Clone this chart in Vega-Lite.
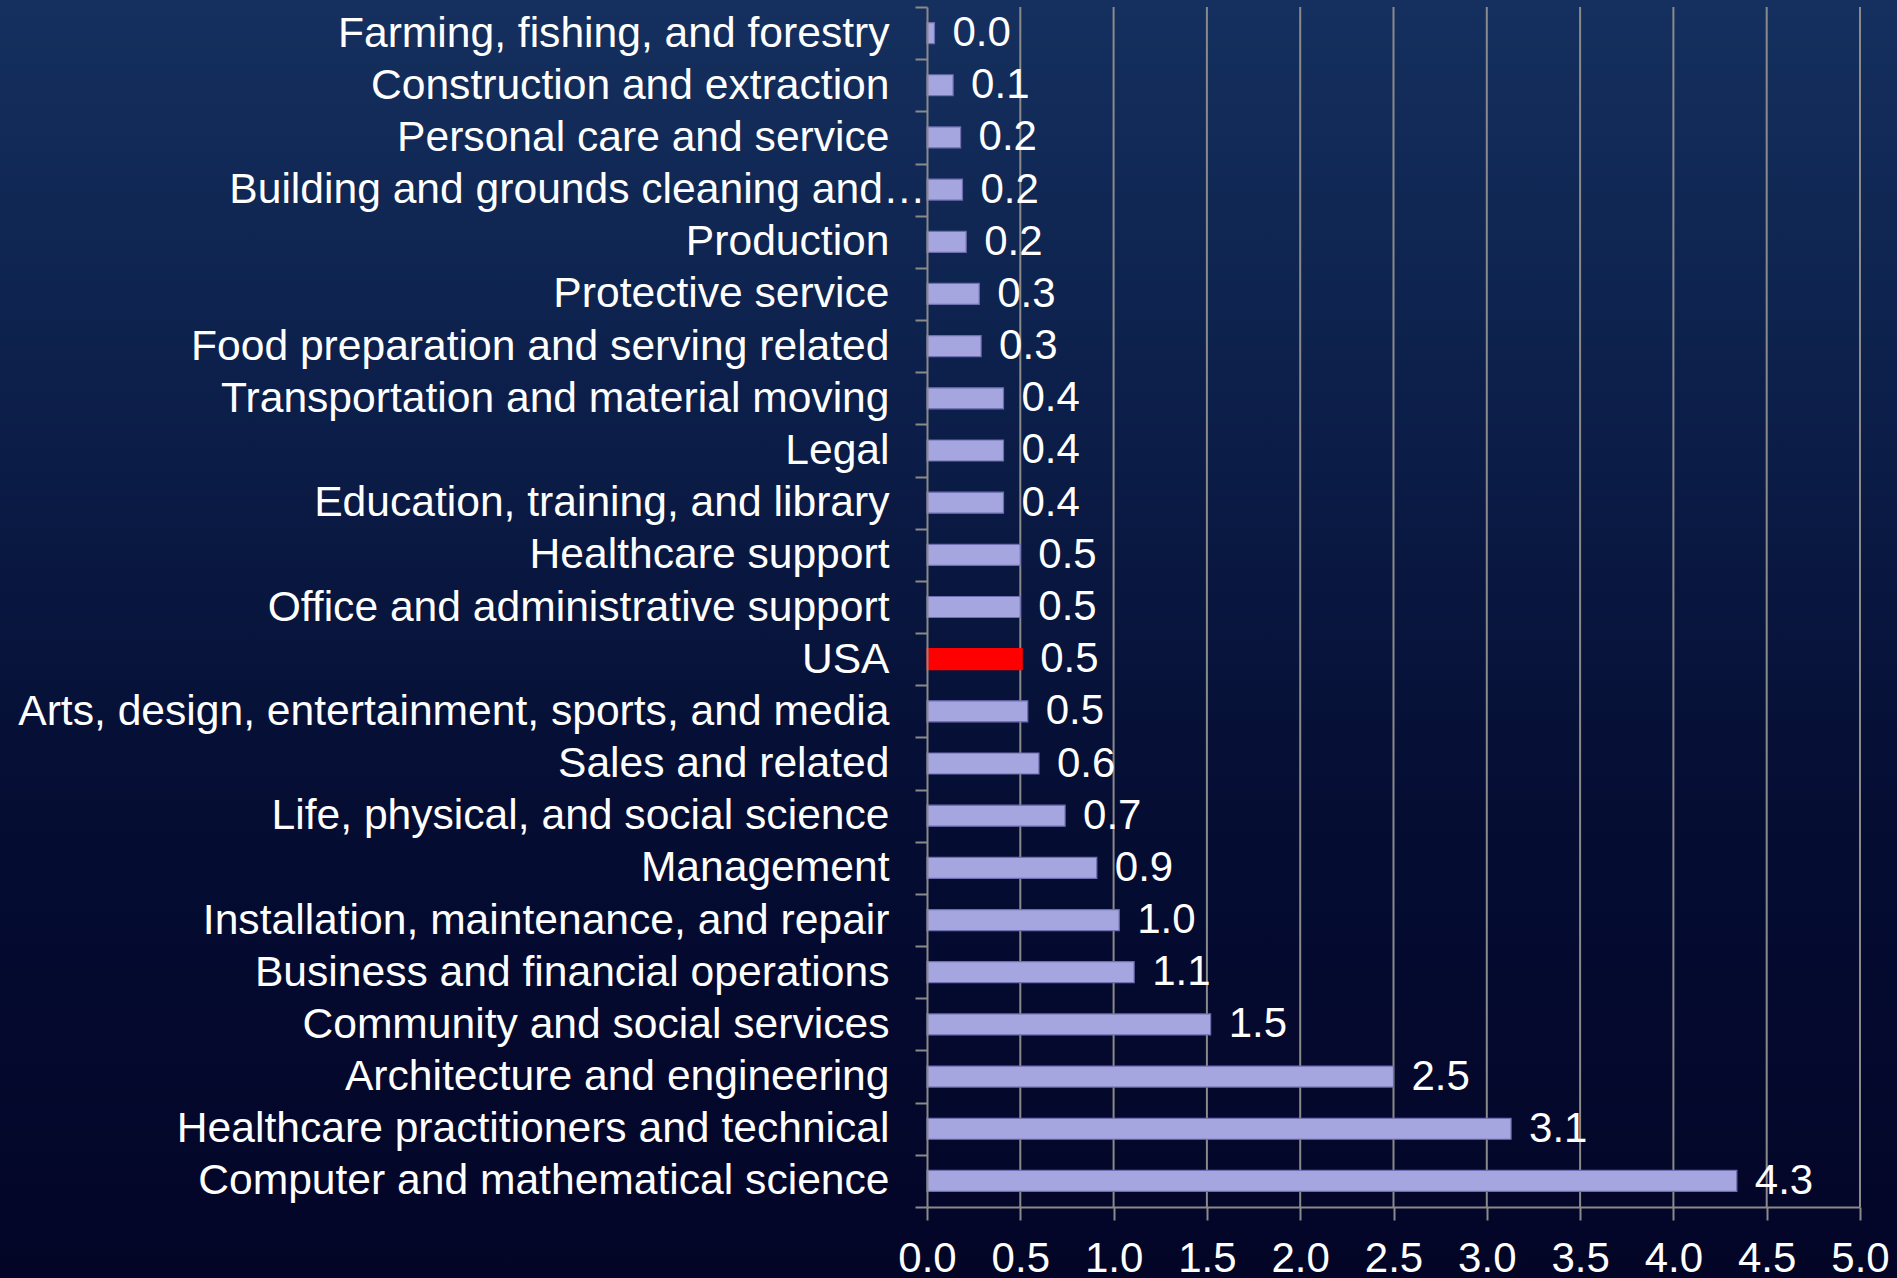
{
  "$schema": "https://vega.github.io/schema/vega-lite/v6.json",
  "width": 933,
  "height": 1200,
  "autosize": {"type": "none"},
  "padding": {"left": 927, "top": 7, "right": 37, "bottom": 71},
  "background": "#030527",
  "config": {"view": {"stroke": null}, "font": "Liberation Sans"},
  "layer": [
    {
      "data": {"values": [{}]},
      "mark": {
        "type": "rect",
        "fill": {
          "gradient": "linear",
          "x1": 0, "y1": 0, "x2": 0, "y2": 1,
          "stops": [
            {"offset": 0, "color": "#15305f"},
            {"offset": 0.31, "color": "#0c1f4a"},
            {"offset": 0.63, "color": "#050d33"},
            {"offset": 1, "color": "#030527"}
          ]
        }
      },
      "encoding": {
        "x": {
          "datum": -4.9679, "type": "quantitative", "scale": {"domain": [0, 5], "nice": false},
          "axis": {
            "values": [0, 0.5, 1, 1.5, 2, 2.5, 3, 3.5, 4, 4.5, 5],
            "format": ".1f", "title": null, "zindex": 1,
            "labelFontSize": 42, "labelFont": "Liberation Sans", "labelColor": "#ffffff",
            "labelPadding": 18, "labelFlush": false, "labelOverlap": false,
            "tickSize": 13, "tickWidth": 2, "tickColor": "#8a8a8a", "grid": false,
            "domainColor": "#8a8a8a", "domainWidth": 2
          }
        },
        "x2": {"datum": 5.1983},
        "y": {"datum": 1.005834, "type": "quantitative", "scale": {"domain": [0, 1], "nice": false, "zero": false}, "axis": null},
        "y2": {"datum": -0.059167}
      }
    },
    {
      "data": {"values": [{"tick": 0.5}, {"tick": 1}, {"tick": 1.5}, {"tick": 2}, {"tick": 2.5}, {"tick": 3}, {"tick": 3.5}, {"tick": 4}, {"tick": 4.5}, {"tick": 5}]},
      "mark": {"type": "rule", "color": "#8a8a8a", "strokeWidth": 2},
      "encoding": {
        "x": {
          "field": "tick", "type": "quantitative", "scale": {"domain": [0, 5], "nice": false},
          "axis": {
            "values": [0, 0.5, 1, 1.5, 2, 2.5, 3, 3.5, 4, 4.5, 5],
            "format": ".1f", "title": null, "zindex": 1,
            "labelFontSize": 42, "labelFont": "Liberation Sans", "labelColor": "#ffffff",
            "labelPadding": 18, "labelFlush": false, "labelOverlap": false,
            "tickSize": 13, "tickWidth": 2, "tickColor": "#8a8a8a", "grid": false,
            "domainColor": "#8a8a8a", "domainWidth": 2
          }
        }
      }
    },
    {
      "data": {
        "values": [
          {"occupation": "Farming, fishing, and forestry", "value": 0.04},
          {"occupation": "Construction and extraction", "value": 0.14},
          {"occupation": "Personal care and service", "value": 0.18},
          {"occupation": "Building and grounds cleaning and…", "value": 0.19},
          {"occupation": "Production", "value": 0.21},
          {"occupation": "Protective service", "value": 0.28},
          {"occupation": "Food preparation and serving related", "value": 0.29},
          {"occupation": "Transportation and material moving", "value": 0.41},
          {"occupation": "Legal", "value": 0.41},
          {"occupation": "Education, training, and library", "value": 0.41},
          {"occupation": "Healthcare support", "value": 0.5},
          {"occupation": "Office and administrative support", "value": 0.5},
          {"occupation": "USA", "value": 0.51},
          {"occupation": "Arts, design, entertainment, sports, and media", "value": 0.54},
          {"occupation": "Sales and related", "value": 0.6},
          {"occupation": "Life, physical, and social science", "value": 0.74},
          {"occupation": "Management", "value": 0.91},
          {"occupation": "Installation, maintenance, and repair", "value": 1.03},
          {"occupation": "Business and financial operations", "value": 1.11},
          {"occupation": "Community and social services", "value": 1.52},
          {"occupation": "Architecture and engineering", "value": 2.5},
          {"occupation": "Healthcare practitioners and technical", "value": 3.13},
          {"occupation": "Computer and mathematical science", "value": 4.34}
        ]
      },
      "encoding": {
        "y": {
          "field": "occupation",
          "type": "nominal",
          "sort": null,
          "scale": {"type": "band", "paddingInner": 0, "paddingOuter": 0},
          "axis": {
            "title": null,
            "zindex": 1,
            "labelFontSize": 42.6,
            "labelFont": "Liberation Sans",
            "labelColor": "#ffffff",
            "labelPadding": {"condition": {"test": "datum.value === 'Building and grounds cleaning and…'", "value": -10}, "value": 26},
            "labelLimit": 1200,
            "tickSize": 12,
            "tickWidth": 2,
            "tickColor": "#8a8a8a",
            "tickBand": "extent",
            "domainColor": "#8a8a8a",
            "domainWidth": 2,
            "grid": false
          }
        },
        "x": {
          "field": "value",
          "type": "quantitative",
          "scale": {"domain": [0, 5], "nice": false},
          "axis": {
            "values": [0, 0.5, 1, 1.5, 2, 2.5, 3, 3.5, 4, 4.5, 5],
            "format": ".1f", "title": null, "zindex": 1,
            "labelFontSize": 42, "labelFont": "Liberation Sans", "labelColor": "#ffffff",
            "labelPadding": 18, "labelFlush": false, "labelOverlap": false,
            "tickSize": 13, "tickWidth": 2, "tickColor": "#8a8a8a", "grid": false,
            "domainColor": "#8a8a8a", "domainWidth": 2
          }
        }
      },
      "layer": [
        {
          "mark": {"type": "bar", "size": 21, "strokeWidth": 1.2},
          "encoding": {
            "fill": {"condition": {"test": "datum.occupation === 'USA'", "value": "#ff0000"}, "value": "#a5a5e0"},
            "stroke": {"condition": {"test": "datum.occupation === 'USA'", "value": "#ff0000"}, "value": "#6e6eb0"}
          }
        },
        {
          "mark": {"type": "text", "align": "left", "baseline": "middle", "dx": 18, "fontSize": 42, "font": "Liberation Sans", "color": "#ffffff"},
          "encoding": {
            "text": {"field": "value", "type": "quantitative", "format": ".1f"}
          }
        }
      ]
    }
  ],
  "resolve": {"scale": {"y": "independent"}}
}
